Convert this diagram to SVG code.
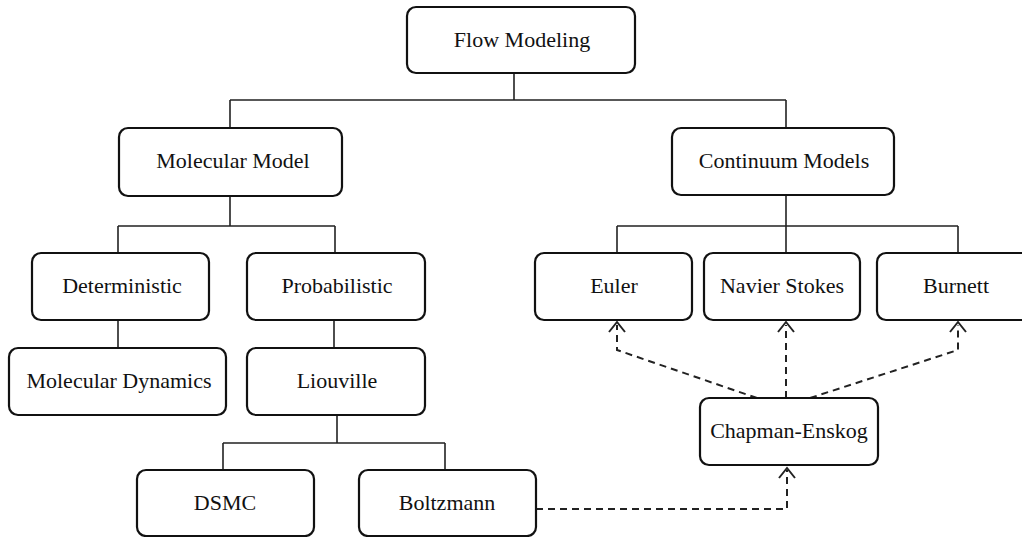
<svg xmlns="http://www.w3.org/2000/svg" width="1022" height="537" viewBox="0 0 1022 537">
<style>
.box{fill:#fff;stroke:#111;stroke-width:2.2}
.lbl{font-family:"Liberation Serif","Times New Roman",serif;font-size:22px;fill:#111;text-anchor:middle}
.ln{fill:none;stroke:#222;stroke-width:1.6}
.dash{fill:none;stroke:#222;stroke-width:2;stroke-dasharray:7,5}
.ah{fill:none;stroke:#222;stroke-width:2}
</style>
<defs>
<marker id="open" viewBox="0 0 12 12" refX="6" refY="1" markerWidth="12" markerHeight="12" markerUnits="userSpaceOnUse" orient="auto-start-reverse">
<path d="M0,9 L6,1 L12,9" fill="none" stroke="#222" stroke-width="2"/>
</marker>
</defs>
<rect width="1022" height="537" fill="#fff"/>
<g id="connectors">
<path class="ln" d="M514,73 V100 M230,100 H786 M230,100 V128 M786,100 V128"/>
<path class="ln" d="M230,196 V226 M118,226 H335 M118,226 V253 M335,226 V253"/>
<path class="ln" d="M118,320 V348 M334,320 V348"/>
<path class="ln" d="M337,415 V443 M223,443 H445 M223,443 V470 M445,443 V470"/>
<path class="ln" d="M786,195 V226 M617,226 H958 M617,226 V253 M786,226 V253 M958,226 V253"/>
<path class="dash" d="M757,398 L617,350 V325"/>
<path class="dash" d="M786,398 V325"/>
<path class="dash" d="M810,398 L958,350 V325"/>
<path class="dash" d="M536,509 H787 V470"/>
<path class="ah" d="M609,332 L617,322 L625,332"/>
<path class="ah" d="M778,332 L786,322 L794,332"/>
<path class="ah" d="M950,332 L958,322 L966,332"/>
<path class="ah" d="M779,478 L787,468 L795,478"/>
</g>
<g id="flow-modeling"><rect class="box" x="407" y="7" width="228" height="66" rx="9"/><text class="lbl" x="522" y="47">Flow Modeling</text></g>
<g id="molecular-model"><rect class="box" x="119" y="128" width="223" height="68" rx="9"/><text class="lbl" x="233" y="168">Molecular Model</text></g>
<g id="continuum-models"><rect class="box" x="672" y="128" width="222" height="67" rx="9"/><text class="lbl" x="784" y="168">Continuum Models</text></g>
<g id="deterministic"><rect class="box" x="32" y="253" width="177" height="67" rx="9"/><text class="lbl" x="122" y="293">Deterministic</text></g>
<g id="probabilistic"><rect class="box" x="247" y="253" width="178" height="67" rx="9"/><text class="lbl" x="337" y="293">Probabilistic</text></g>
<g id="molecular-dynamics"><rect class="box" x="9" y="348" width="217" height="67" rx="9"/><text class="lbl" x="119" y="388">Molecular Dynamics</text></g>
<g id="liouville"><rect class="box" x="247" y="348" width="178" height="67" rx="9"/><text class="lbl" x="337" y="388">Liouville</text></g>
<g id="dsmc"><rect class="box" x="137" y="470" width="177" height="66" rx="9"/><text class="lbl" x="225" y="510">DSMC</text></g>
<g id="boltzmann"><rect class="box" x="359" y="470" width="177" height="66" rx="9"/><text class="lbl" x="447" y="510">Boltzmann</text></g>
<g id="euler"><rect class="box" x="535" y="253" width="157" height="67" rx="9"/><text class="lbl" x="614" y="293">Euler</text></g>
<g id="navier-stokes"><rect class="box" x="704" y="253" width="156" height="67" rx="9"/><text class="lbl" x="782" y="293">Navier Stokes</text></g>
<g id="burnett"><rect class="box" x="877" y="253" width="160" height="67" rx="9"/><text class="lbl" x="956" y="293">Burnett</text></g>
<g id="chapman-enskog"><rect class="box" x="700" y="398" width="178" height="67" rx="9"/><text class="lbl" x="789" y="438">Chapman-Enskog</text></g>
</svg>
